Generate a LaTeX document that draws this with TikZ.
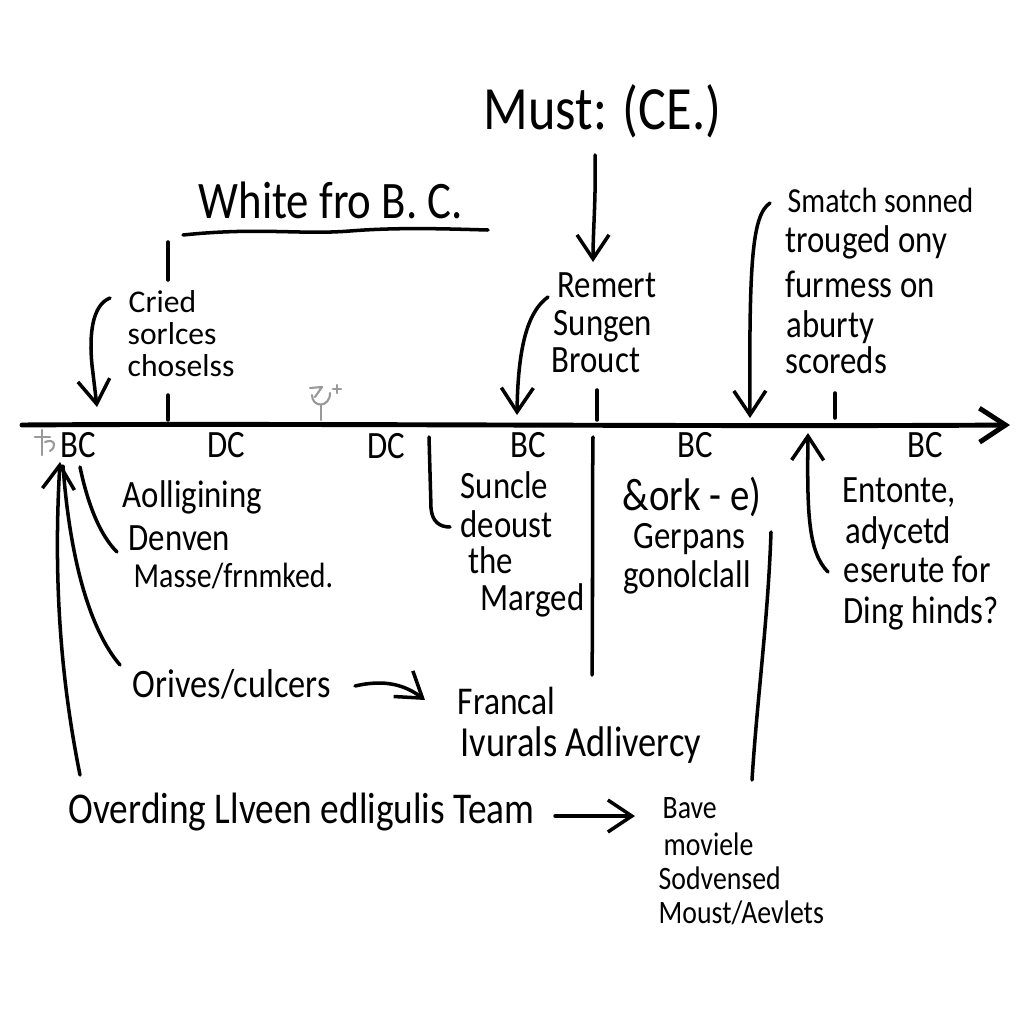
\documentclass[tikz,border=0pt]{standalone}
\usepackage{fontspec}
\setmainfont{Carlito}[FakeStretch=0.85]
\newfontfamily\widehand{Carlito}
\usetikzlibrary{arrows.meta}
\begin{document}
\begin{tikzpicture}[x=0.1mm,y=-0.1mm,line cap=round,line join=round,
  ink/.style={line width=1pt,black},
  axisline/.style={line width=1.4pt,black},
  tip/.style={-{Straight Barb[length=2.4mm,width=3.2mm]}},
  faint/.style={line width=0.6pt,black!40},
  lbl/.style={anchor=base west,inner sep=0pt,font=\fontsize{11}{13}\selectfont},
  small/.style={anchor=base west,inner sep=0pt,font=\widehand\fontsize{9}{10}\selectfont},
  tick/.style={anchor=base west,inner sep=0pt,font=\fontsize{11}{13}\selectfont}]
\useasboundingbox[fill=white] (0,0) rectangle (1024,1024);

% ---- titles
\node[lbl,font=\fontsize{17.5}{20}\selectfont] (must) at (483,130) {Must: (CE.)};
\node[lbl,font=\fontsize{15}{18}\selectfont] (white) at (198,218) {White fro B. C.};

% ---- upper labels
\node[lbl] (rem1) at (557,298) {Remert};
\node[lbl] (rem2) at (553,335) {Sungen};
\node[lbl] (rem3) at (551,372) {Brouct};
\node[small] (cri1) at (128,312) {Cried};
\node[small] (cri2) at (127,344) {sorlces};
\node[small] (cri3) at (127,376) {choselss};
\node[lbl,font=\fontsize{10}{12}\selectfont] (sma1) at (787,213) {Smatch sonned};
\node[lbl] (sma2) at (785,252) {trouged ony};
\node[lbl] (sma3) at (785,297) {furmess on};
\node[lbl] (sma4) at (786,337) {aburty};
\node[lbl] (sma5) at (785,373) {scoreds};

% ---- axis labels
\node[tick] (bc1) at (60,457) {BC};
\node[tick] (dc1) at (207,457) {DC};
\node[tick] (dc2) at (367,458) {DC};
\node[tick] (bc2) at (510,457) {BC};
\node[tick] (bc3) at (677,457) {BC};
\node[tick] (bc4) at (907,457) {BC};

% ---- lower labels
\node[lbl] (aol1) at (122,507) {Aolligining};
\node[lbl] (aol2) at (128,550) {Denven};
\node[lbl,font=\fontsize{10}{12}\selectfont] (aol3) at (133,587) {Masse/frnmked.};
\node[lbl] (sun1) at (460,498) {Suncle};
\node[lbl] (sun2) at (460,537) {deoust};
\node[lbl] (sun3) at (468,573) {the};
\node[lbl] (sun4) at (480,610) {Marged};
\node[lbl,font=\fontsize{13}{15}\selectfont] (ork1) at (622,510) {\&ork - e)};
\node[lbl] (ork2) at (633,548) {Gerpans};
\node[lbl] (ork3) at (623,587) {gonolclall};
\node[lbl] (ent1) at (842,502) {Entonte,};
\node[lbl] (ent2) at (845,543) {adycetd};
\node[lbl] (ent3) at (843,582) {eserute for};
\node[lbl] (ent4) at (843,623) {Ding hinds?};
\node[lbl,font=\fontsize{11.5}{13}\selectfont] (ori) at (132,697) {Orives/culcers};
\node[lbl,font=\fontsize{11.2}{13}\selectfont] (fra1) at (457,714) {Francal};
\node[lbl,font=\fontsize{12.2}{14}\selectfont] (fra2) at (460,756) {Ivurals Adlivercy};
\node[lbl,font=\fontsize{12.5}{14}\selectfont] (ove) at (68,823) {Overding Llveen edligulis Team};
\node[lbl,font=\fontsize{9.3}{11}\selectfont] (bav1) at (662,818) {Bave};
\node[lbl,font=\fontsize{9.3}{11}\selectfont] (bav2) at (663,855) {moviele};
\node[lbl,font=\fontsize{9.3}{11}\selectfont] (bav3) at (658,889) {Sodvensed};
\node[lbl,font=\fontsize{9.3}{11}\selectfont] (bav4) at (658,923) {Moust/Aevlets};

% ---- coordinates
\coordinate (axL) at (22,425);
\coordinate (axR) at (1010,425);
\coordinate (mustS) at (595,155);
\coordinate (remN) at (593,262);
\coordinate (remW) at (548,297);
\coordinate (axRem) at (517,415);
\coordinate (criW) at (110,298);
\coordinate (axCri) at (97,407);
\coordinate (smaW) at (770,203);
\coordinate (axSma) at (750,418);
\coordinate (entW) at (828,572);
\coordinate (axEnt) at (808,433);
\coordinate (bcS) at (60,462);
\coordinate (oveN) at (80,775);
\coordinate (oriNW) at (120,665);
\coordinate (oriE) at (355,686);
\coordinate (fraW) at (425,700);
\coordinate (oveE) at (555,816);
\coordinate (bavW) at (635,816);

% ---- axis and ticks
\draw[axisline,-{Straight Barb[length=2.6mm,width=3.4mm]}] (axL) .. controls (300,423) and (700,427) .. (axR);
\draw[ink] (168,395) -- (168,420);
\draw[ink] (597,390) -- (597,420);
\draw[ink] (835,393) -- (835,418);
\draw[ink] (168,242) -- (168,280);

% underline of title
\draw[ink] (183,235) .. controls (260,227) and (300,235) .. (350,231) .. controls (400,227) and (450,229) .. (488,230);

% ---- arrows
\draw[ink,tip] (mustS) .. controls (596,200) and (593,230) .. (remN);
\draw[ink,tip] (remW) .. controls (530,310) and (518,340) .. (axRem);
\draw[ink,tip] (criW) .. controls (92,305) and (89,335) .. (92,365) -- (axCri);
\draw[ink,tip] (smaW) .. controls (752,215) and (749,262) .. (axSma);
\draw[ink,tip] (entW) .. controls (808,552) and (807,512) .. (axEnt);
\draw[ink,tip] (oveN) .. controls (65,700) and (52,600) .. (bcS);
\draw[ink] (oriNW) .. controls (90,630) and (70,560) .. (63,466);
\draw[ink,tip] (oriE) .. controls (385,679) and (405,685) .. (fraW);
\draw[ink,tip] (oveE) -- (bavW);

% ---- plain strokes
\draw[ink] (80,467) .. controls (88,505) and (100,535) .. (117,552);
\draw[ink] (429,437) -- (431,508) .. controls (432,522) and (440,527) .. (450,527);
\draw[ink] (593,437) .. controls (592,520) and (593,600) .. (592,675);
\draw[ink] (771,532) .. controls (768,620) and (757,700) .. (752,780);

% ---- faint grey marks
\draw[faint] (310,388) -- (322,387) -- (315,397);
\draw[faint] (312,395) .. controls (312,408) and (330,408) .. (330,393);
\draw[faint] (321,405) -- (321,420);
\draw[faint] (333,389) -- (341,389) (337,385) -- (337,393);
\draw[faint] (42,430) -- (42,455) (35,437) -- (50,437);
\draw[faint] (45,442) .. controls (55,438) and (57,447) .. (50,451);
\end{tikzpicture}
\end{document}
